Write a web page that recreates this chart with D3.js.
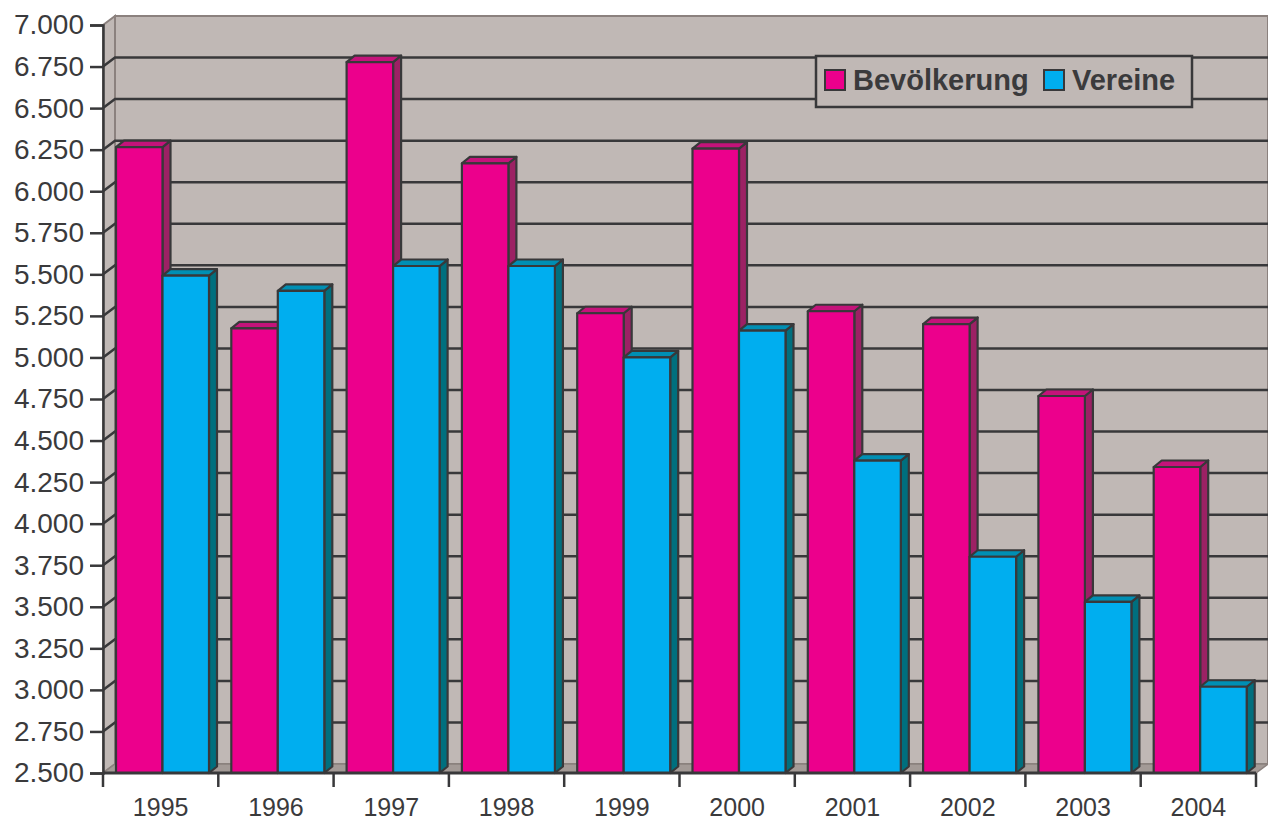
<!DOCTYPE html>
<html>
<head>
<meta charset="utf-8">
<script src="https://cdn.jsdelivr.net/npm/d3@7"></script>
<style>
  body { margin: 0; background: #fff; }
  text { font-family: "Liberation Sans", Arial, sans-serif; fill: #3a3a3c; }
</style>
</head>
<body>
<svg id="chart"></svg>
<script>
// Data
var years = ["1995", "1996", "1997", "1998", "1999", "2000", "2001", "2002", "2003", "2004"];
var seriesNames = ["Bevölkerung", "Vereine"];
var bevoelkerung = [6265, 5175, 6777, 6167, 5266, 6256, 5278, 5201, 4768, 4341];
var vereine = [5492, 5400, 5550, 5550, 5000, 5161, 4379, 3801, 3529, 3019];
var yTicks = [2500, 2750, 3000, 3250, 3500, 3750, 4000, 4250, 4500, 4750,
              5000, 5250, 5500, 5750, 6000, 6250, 6500, 6750, 7000];

var width = 1268, height = 821;
// note: "top" is reserved on window, so plot* names
var plotLeft = 103, plotRight = 1256, plotBottom = 773, plotTop = 25;
var depthX = 12, depthY = -9;      // wall depth
var barDX = 8, barDY = -6.5;       // bar depth
var lineColor = "#38383a", wallEdge = "#8b817e", wallFill = "#c0b8b5";

var colors = {
  "Bevölkerung": { front: "#ec008c", side: "#9c2164", top: "#c4137a" },
  "Vereine":     { front: "#00aeef", side: "#006f7e", top: "#008fb4" }
};

var svg = d3.select("#chart")
    .attr("width", width)
    .attr("height", height);

var y = d3.scaleLinear()
          .domain([2500, 7000])
          .range([plotBottom, plotTop]);

var x = d3.scaleBand()
          .domain(years)
          .range([plotLeft, plotRight]);

var xInner = d3.scaleBand()
               .domain(seriesNames)
               .range([13, 106]);

function poly(points) {
  return "M" + points.map(p => p.join(",")).join("L") + "Z";
}

// Walls and floor
svg.append("rect")
    .attr("x", plotLeft + depthX)
    .attr("y", plotTop + depthY)
    .attr("width", plotRight - plotLeft)
    .attr("height", plotBottom - plotTop)
    .attr("fill", wallFill)
    .attr("stroke", wallEdge)
    .attr("stroke-width", 2);

svg.append("path")
    .attr("d", poly([[plotLeft, plotTop], [plotLeft + depthX, plotTop + depthY],
                     [plotLeft + depthX, plotBottom + depthY], [plotLeft, plotBottom]]))
    .attr("fill", wallFill)
    .attr("stroke", wallEdge)
    .attr("stroke-width", 2);

svg.append("path")
    .attr("d", poly([[plotLeft, plotBottom], [plotRight, plotBottom],
                     [plotRight + depthX, plotBottom + depthY], [plotLeft + depthX, plotBottom + depthY]]))
    .attr("fill", "#a39a96")
    .attr("stroke", wallEdge)
    .attr("stroke-width", 1.5);

// Gridlines on back wall and side wall
var grid = svg.append("g")
    .attr("stroke", lineColor)
    .attr("stroke-width", 2.5)
    .attr("fill", "none");

grid.selectAll("path")
    .data(yTicks.filter(t => t > 2500 && t < 7000))
    .enter()
  .append("path")
    .attr("d", function(t) {
      var yy = y(t);
      return "M" + plotLeft + "," + yy + "L" + (plotLeft + depthX) + "," + (yy + depthY) +
             "L" + (plotRight + depthX) + "," + (yy + depthY);
    });

// Bars
var bars = [];
years.forEach(function(yr, i) {
  bars.push({ year: yr, series: "Bevölkerung", value: bevoelkerung[i] });
  bars.push({ year: yr, series: "Vereine", value: vereine[i] });
});

var barW = xInner.bandwidth();

var barG = svg.selectAll(".bar")
    .data(bars)
    .enter()
  .append("g")
    .classed("bar", true)
    .attr("stroke", lineColor)
    .attr("stroke-width", 2.2)
    .attr("stroke-linejoin", "round");

barG.append("path")
    .attr("fill", d => colors[d.series].side)
    .attr("d", function(d) {
      var x1 = x(d.year) + xInner(d.series) + barW, yt = y(d.value);
      return poly([[x1, yt], [x1 + barDX, yt + barDY], [x1 + barDX, plotBottom + barDY], [x1, plotBottom]]);
    });

barG.append("path")
    .attr("fill", d => colors[d.series].top)
    .attr("d", function(d) {
      var x0 = x(d.year) + xInner(d.series), yt = y(d.value);
      return poly([[x0, yt], [x0 + barDX, yt + barDY], [x0 + barW + barDX, yt + barDY], [x0 + barW, yt]]);
    });

barG.append("rect")
    .attr("fill", d => colors[d.series].front)
    .attr("x", d => x(d.year) + xInner(d.series))
    .attr("y", d => y(d.value))
    .attr("width", barW)
    .attr("height", d => plotBottom - y(d.value));

// Axes
var yAxis = d3.axisLeft(y)
              .tickValues(yTicks)
              .tickSize(13)
              .tickPadding(6)
              .tickFormat(d => d3.format(",.0f")(d).replace(",", "."));

svg.append("g")
    .attr("transform", "translate(" + plotLeft + ",0)")
    .call(yAxis)
    .call(g => g.select(".domain").attr("stroke", lineColor).attr("stroke-width", 2.5))
    .call(g => g.selectAll(".tick line").attr("stroke", lineColor).attr("stroke-width", 2.5))
    .call(g => g.selectAll(".tick text")
                .attr("font-size", "28px")
                .attr("fill", lineColor)
                .style("font-family", "'Liberation Sans', Arial, sans-serif"));

var xAxisG = svg.append("g")
    .attr("transform", "translate(0," + plotBottom + ")");

xAxisG.append("line")
    .attr("x1", plotLeft).attr("x2", plotRight)
    .attr("stroke", lineColor)
    .attr("stroke-width", 3);

xAxisG.selectAll(".xtick")
    .data(years.concat(["end"]))
    .enter()
  .append("line")
    .attr("x1", (d, i) => plotLeft + i * x.step())
    .attr("x2", (d, i) => plotLeft + i * x.step())
    .attr("y1", 0).attr("y2", 14)
    .attr("stroke", lineColor)
    .attr("stroke-width", 2.5);

xAxisG.selectAll(".xlabel")
    .data(years)
    .enter()
  .append("text")
    .attr("x", d => x(d) + x.bandwidth() / 2)
    .attr("y", 43)
    .attr("font-size", "25px")
    .style("text-anchor", "middle")
    .text(d => d);

// Legend
var legend = svg.append("g");

legend.append("rect")
    .attr("x", 816).attr("y", 56)
    .attr("width", 376).attr("height", 51)
    .attr("fill", wallFill)
    .attr("stroke", lineColor)
    .attr("stroke-width", 2.5);

var legendX = [825, 1044];
seriesNames.forEach(function(name, i) {
  legend.append("rect")
      .attr("x", legendX[i]).attr("y", 70)
      .attr("width", 20).attr("height", 20)
      .attr("fill", colors[name].front)
      .attr("stroke", lineColor)
      .attr("stroke-width", 2);
  legend.append("text")
      .attr("x", legendX[i] + 28)
      .attr("y", 90)
      .attr("font-size", "29px")
      .attr("font-weight", "bold")
      .text(name);
});
</script>
</body>
</html>
